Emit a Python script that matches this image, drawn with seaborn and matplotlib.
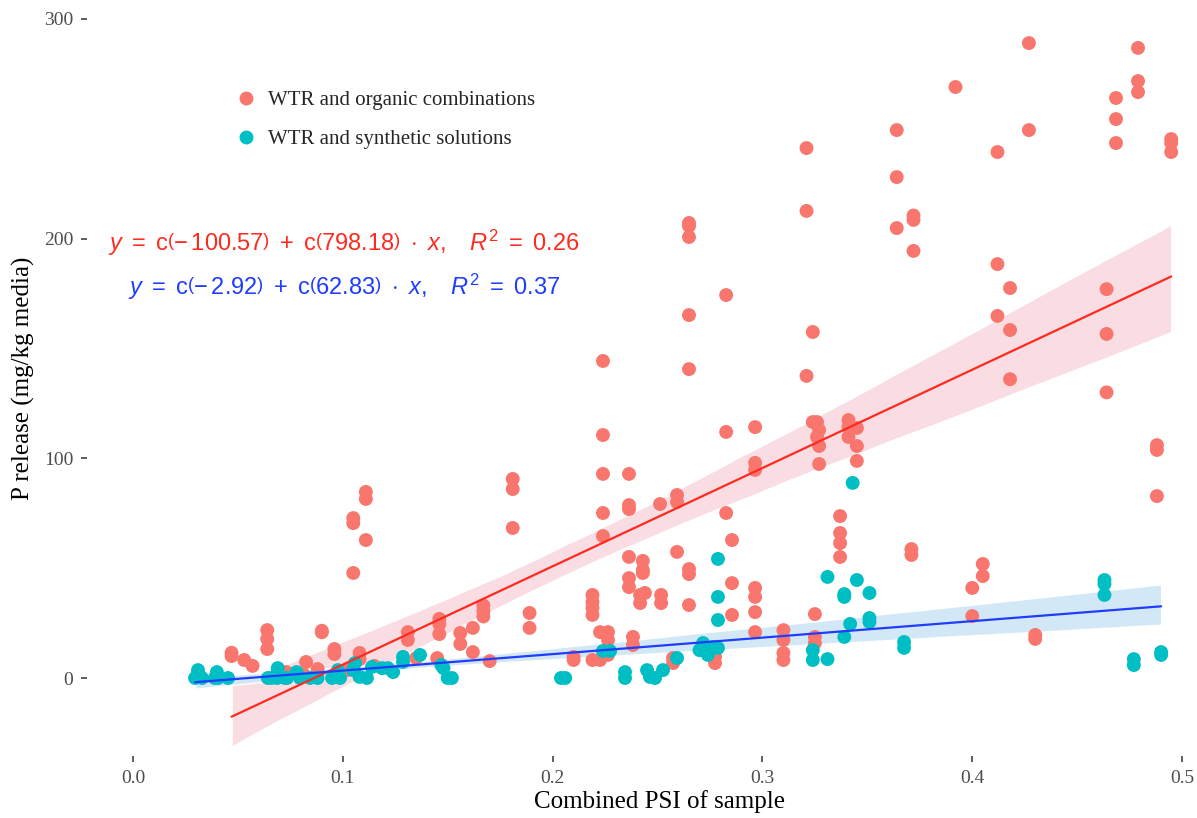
import numpy as np
import pandas as pd
import matplotlib
matplotlib.use("Agg")
import matplotlib.pyplot as plt
import seaborn as sns

# Combined PSI of sample and P release (mg/kg media), one list pair per treatment group
organic_psi = [
    0.047, 0.047, 0.053, 0.057, 0.064, 0.064, 0.064, 0.069, 0.073, 0.0815,
    0.0825, 0.088, 0.090, 0.090, 0.096, 0.096, 0.102, 0.105, 0.105, 0.105,
    0.108, 0.108, 0.111, 0.111, 0.111, 0.115, 0.131, 0.131, 0.135, 0.145,
    0.146, 0.146, 0.146, 0.156, 0.156, 0.162, 0.162, 0.167, 0.167, 0.167,
    0.170, 0.181, 0.181, 0.181, 0.189, 0.189, 0.210, 0.210,
    0.219, 0.219, 0.219, 0.219, 0.219, 0.2226, 0.2226,
    0.224, 0.224, 0.224, 0.224, 0.224, 0.2264, 0.2264, 0.2264,
    0.2364, 0.2364, 0.2364, 0.2364, 0.2364, 0.2364, 0.2383, 0.2383,
    0.2417, 0.2417, 0.243, 0.243, 0.243, 0.244, 0.2512, 0.2517, 0.2517,
    0.2574, 0.2574, 0.2593, 0.2593, 0.2593,
    0.265, 0.265, 0.265, 0.265, 0.265, 0.265, 0.265, 0.265,
    0.2774, 0.2774, 0.2827, 0.2827, 0.2827, 0.2855, 0.2855, 0.2855,
    0.2965, 0.2965, 0.2965, 0.2965, 0.2965, 0.2965, 0.2965,
    0.310, 0.310, 0.310, 0.310, 0.321, 0.321, 0.321, 0.324, 0.324,
    0.325, 0.325, 0.325, 0.326, 0.326, 0.327, 0.327, 0.327,
    0.337, 0.337, 0.337, 0.337, 0.341, 0.341, 0.341, 0.345, 0.345, 0.345,
    0.364, 0.364, 0.364, 0.371, 0.371, 0.372, 0.372, 0.372, 0.392,
    0.400, 0.400, 0.405, 0.405, 0.412, 0.412, 0.412, 0.418, 0.418, 0.418,
    0.427, 0.427, 0.430, 0.430, 0.464, 0.464, 0.464, 0.4685, 0.4685, 0.4685,
    0.479, 0.479, 0.479, 0.488, 0.488, 0.488, 0.4948, 0.4948, 0.4948,
]
organic_p = [
    11.5, 10.0, 8.2, 5.5, 21.8, 17.8, 13.2, 2.7, 2.7, 1.4,
    7.3, 4.1, 21.5, 20.8, 13.2, 10.9, 3.6, 72.8, 70.5, 47.8,
    11.4, 8.6, 84.7, 81.5, 62.8, 5.5, 20.9, 17.3, 9.1, 9.1,
    26.9, 24.5, 20.0, 20.5, 15.5, 22.8, 11.8, 33.0, 30.5, 28.0,
    7.7, 90.6, 86.0, 68.3, 29.6, 22.8, 9.6, 8.2,
    37.8, 34.6, 31.9, 28.7, 8.2, 20.9, 8.2,
    144.3, 110.6, 92.9, 75.1, 64.6, 20.9, 17.3, 10.5,
    92.9, 78.7, 76.9, 55.1, 45.5, 41.4, 18.7, 15.0,
    37.8, 34.1, 53.3, 49.2, 47.8, 38.7, 79.2, 37.8, 34.1,
    9.1, 6.8, 83.3, 80.1, 57.4,
    207.1, 205.7, 200.7, 165.2, 140.6, 49.6, 47.3, 33.2,
    9.6, 6.8, 174.3, 112.0, 75.1, 62.8, 43.2, 28.7,
    114.2, 97.9, 94.7, 41.0, 36.9, 30.0, 20.9,
    21.8, 17.3, 11.4, 8.2, 241.2, 212.6, 137.5, 157.5, 116.5,
    29.1, 18.7, 15.9, 116.5, 109.7, 112.9, 105.6, 97.4,
    73.7, 66.0, 61.4, 55.1, 117.4, 114.2, 109.7, 113.8, 105.6, 98.8,
    249.4, 228.0, 204.8, 58.7, 56.0, 210.5, 208.5, 194.4, 269.0,
    41.0, 28.2, 51.9, 46.4, 239.4, 188.4, 164.8, 177.5, 158.4, 136.0,
    289.0, 249.4, 19.6, 17.8, 177.0, 156.6, 130.0, 264.0, 254.4, 243.5,
    286.8, 271.7, 266.7, 106.0, 103.8, 82.8, 245.3, 243.5, 239.4,
]

synthetic_psi = [
    0.0296, 0.031, 0.031, 0.0329, 0.039, 0.040, 0.0405, 0.0453, 0.0643, 0.066,
    0.069, 0.0686, 0.0725, 0.0734, 0.078, 0.0796, 0.0844, 0.088, 0.0949, 0.0977,
    0.0987, 0.1049, 0.1058, 0.108, 0.1115, 0.1139, 0.1187, 0.1215, 0.124, 0.1287,
    0.1287, 0.1368, 0.147, 0.148, 0.150, 0.152, 0.204, 0.206, 0.224, 0.2274,
    0.2345, 0.2345, 0.245, 0.2464, 0.2488, 0.2526, 0.2593, 0.270, 0.2717, 0.274,
    0.2745, 0.2765, 0.2788, 0.2788, 0.2788, 0.2788, 0.324, 0.324, 0.331, 0.331,
    0.339, 0.339, 0.339, 0.3418, 0.343, 0.345, 0.351, 0.351, 0.351, 0.3675,
    0.3675, 0.463, 0.463, 0.463, 0.477, 0.477, 0.490, 0.490,
]
synthetic_p = [
    0.0, 3.6, 0.5, 0.0, 0.0, 2.7, 0.0, 0.0, 0.0, 0.0,
    4.5, 0.0, 0.0, 0.0, 2.7, 0.0, 0.0, 0.0, 0.0, 3.6,
    0.0, 3.6, 6.8, 0.5, 0.0, 5.0, 4.5, 4.5, 2.7, 9.6,
    7.3, 10.5, 5.9, 4.5, 0.0, 0.0, 0.0, 0.0, 12.3, 12.3,
    2.7, 0.0, 3.6, 0.5, 0.0, 3.6, 9.1, 12.7, 15.9, 10.5,
    12.7, 14.1, 54.2, 36.9, 26.4, 13.7, 12.7, 8.2, 46.0, 8.6,
    38.2, 36.9, 18.7, 24.6, 88.8, 44.6, 38.7, 27.3, 25.5, 16.4,
    13.7, 44.6, 42.8, 37.8, 8.6, 5.9, 11.8, 10.5,
]

groups = ["WTR and organic combinations", "WTR and synthetic solutions"]
point_colors = ["#F8766D", "#00BFC4"]
fit_colors = ["#ff2a1f", "#1f3cff"]
band_colors = ["#f9dde2", "#d3e8f6"]
x_ticks = [0.0, 0.1, 0.2, 0.3, 0.4, 0.5]
y_ticks = [0, 100, 200, 300]
equations = [
    r"$y\ =\ \mathrm{c}\left(-\,100.57\right)\ +\ \mathrm{c}\left(798.18\right)\ \cdot\ x,\ \ \ R^2\ =\ 0.26$",
    r"$y\ =\ \mathrm{c}\left(-\,2.92\right)\ +\ \mathrm{c}\left(62.83\right)\ \cdot\ x,\ \ \ R^2\ =\ 0.37$",
]

df = pd.concat([
    pd.DataFrame({"psi": organic_psi, "p": organic_p, "group": groups[0]}),
    pd.DataFrame({"psi": synthetic_psi, "p": synthetic_p, "group": groups[1]}),
], ignore_index=True)

sns.set_theme(style="white")
plt.rcParams["font.family"] = ["Liberation Serif", "DejaVu Serif"]
plt.rcParams["mathtext.fontset"] = "custom"
plt.rcParams["mathtext.rm"] = "Liberation Sans"
plt.rcParams["mathtext.it"] = "Liberation Sans:italic"
plt.rcParams["mathtext.bf"] = "Liberation Sans:bold"

fig = plt.figure(figsize=(11.97, 8.18), dpi=100)
ax = fig.add_axes([87 / 1197, 62 / 818, 1110 / 1197, 756 / 818])

sns.scatterplot(data=df, x="psi", y="p", hue="group", hue_order=groups,
                palette=point_colors, s=100, linewidth=0, alpha=1, ax=ax, zorder=3)

for g, fc, bc in zip(groups, fit_colors, band_colors):
    sub = df[df["group"] == g]
    n_before = len(ax.collections)
    sns.regplot(data=sub, x="psi", y="p", scatter=False, ci=95, ax=ax,
                color=fc, line_kws={"lw": 1.6, "zorder": 4}, truncate=True)
    for coll in ax.collections[n_before:]:
        coll.set_facecolor(bc)
        coll.set_alpha(1)
        coll.set_zorder(1)

ax.set_xlim(-0.0219, 0.5071)
ax.set_ylim(-35.5, 308.6)
ax.set_xticks(x_ticks)
ax.set_xticklabels([f"{v:.1f}" for v in x_ticks])
ax.set_yticks(y_ticks)
ax.set_yticklabels([str(v) for v in y_ticks])
for s in ax.spines.values():
    s.set_visible(False)
ax.tick_params(axis="both", which="major", direction="out", length=4, width=1.1,
               color="#333333", labelcolor="#4d4d4d", labelsize=14, pad=6,
               bottom=True, left=True)

ax.set_xlabel("Combined PSI of sample", fontsize=18, color="black")
ax.set_ylabel("P release (mg/kg media)", fontsize=18, color="black", labelpad=6)
ax.xaxis.set_label_coords(0.516, -0.045)

ax.text(0.1006, 198, equations[0], color=fit_colors[0], fontsize=17,
        ha="center", va="center")
ax.text(0.1006, 178, equations[1], color=fit_colors[1], fontsize=17,
        ha="center", va="center")

leg = ax.legend(loc="upper left", bbox_to_anchor=(0.108, 0.905), frameon=False,
                fontsize=15, handletextpad=0.05, labelspacing=0.92, markerscale=1.0)

fig.savefig("out.png", dpi=100)
